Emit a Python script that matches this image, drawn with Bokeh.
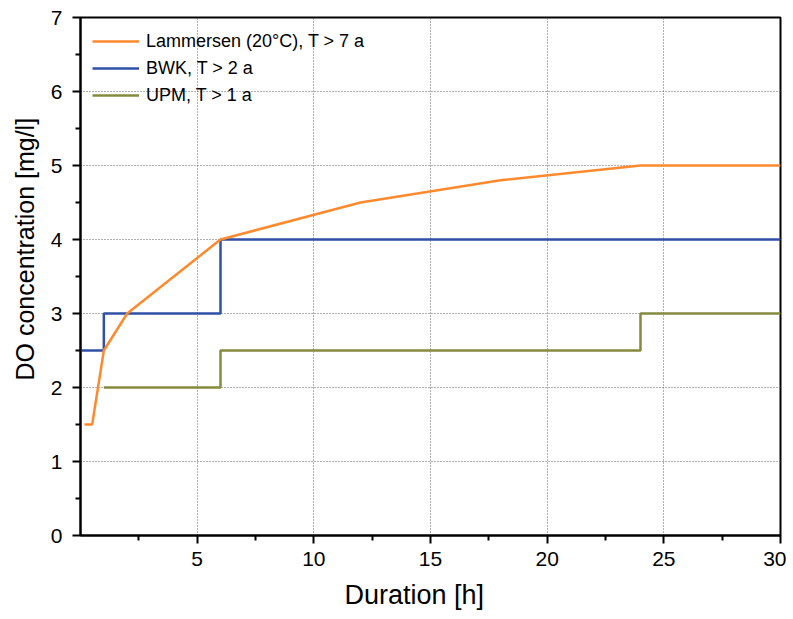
from bokeh.plotting import figure
from bokeh.models import FixedTicker, Legend, LegendItem, Range1d, Title
from bokeh.embed import file_html
from bokeh.resources import INLINE

# Data
lam_x = [0.17, 0.5, 1, 2, 6, 12, 18, 24, 30]
lam_y = [1.5, 1.5, 2.5, 3, 4, 4.5, 4.8, 5, 5]
bwk_x = [0, 1, 6, 30]
bwk_y = [2.5, 3, 4, 4]
upm_x = [1, 6, 24, 30]
upm_y = [2, 2.5, 3, 3]
labels = ["Lammersen (20°C), T > 7 a", "BWK, T > 2 a", "UPM, T > 1 a"]
x_title = "Duration [h]"
y_title = "DO concentration [mg/l]"
x_ticks = [5, 10, 15, 20, 25, 30]
x_minor = [2.5, 7.5, 12.5, 17.5, 22.5, 27.5]
y_ticks = [0, 1, 2, 3, 4, 5, 6, 7]
y_minor = [0.5, 1.5, 2.5, 3.5, 4.5, 5.5, 6.5]

FONT = "Liberation Sans"
p = figure(width=786, height=619, output_backend="svg", toolbar_location=None,
           x_range=Range1d(0, 30), y_range=Range1d(0, 7),
           min_border_left=79, min_border_right=6, min_border_top=17, min_border_bottom=82)
p.background_fill_color = "white"
p.border_fill_color = "white"
p.outline_line_color = "black"
p.outline_line_width = 2

for ax in (p.xaxis[0], p.yaxis[0]):
    ax.axis_line_width = 2
    ax.axis_line_color = "black"
    ax.major_tick_line_width = 2
    ax.minor_tick_line_width = 2
    ax.major_tick_in = 0
    ax.major_tick_out = 8
    ax.minor_tick_in = 0
    ax.minor_tick_out = 5
    ax.major_label_text_font = FONT
    ax.major_label_text_font_size = "21px"
    ax.major_label_text_color = "black"

p.xaxis[0].ticker = FixedTicker(ticks=x_ticks, minor_ticks=x_minor)
p.yaxis[0].ticker = FixedTicker(ticks=y_ticks, minor_ticks=y_minor)
p.xaxis[0].major_label_standoff = 8
p.yaxis[0].major_label_standoff = 10

for g in (p.xgrid[0], p.ygrid[0]):
    g.grid_line_color = "#606060"
    g.grid_line_dash = "1 2"
    g.grid_line_width = 1
p.xgrid[0].ticker = FixedTicker(ticks=[5, 10, 15, 20, 25])
p.ygrid[0].ticker = FixedTicker(ticks=[1, 2, 3, 4, 5, 6])

r_upm = p.step(upm_x, upm_y, mode="after", line_color="#868a3e", line_width=2.5)
r_bwk = p.step(bwk_x, bwk_y, mode="after", line_color="#3050a8", line_width=2.5)
r_lam = p.line(lam_x, lam_y, line_color="#ff8a2e", line_width=2.5)

# axis titles as side titles, positioned like the reference
p.add_layout(Title(text=x_title, align="left", offset=264, text_font=FONT,
                   text_font_size="27px", text_font_style="normal", text_color="black",
                   standoff=19), "below")
p.add_layout(Title(text=y_title, align="left", offset=155, text_font=FONT,
                   text_font_size="25px", text_font_style="normal", text_color="black",
                   standoff=17), "left")

legend = Legend(items=[LegendItem(label=labels[0], renderers=[r_lam]),
                       LegendItem(label=labels[1], renderers=[r_bwk]),
                       LegendItem(label=labels[2], renderers=[r_upm])],
                location="top_left")
legend.border_line_color = None
legend.background_fill_alpha = 0
legend.margin = 12
legend.padding = 0
legend.spacing = 3
legend.glyph_width = 47
legend.glyph_height = 24
legend.label_height = 24
legend.label_standoff = 7
legend.label_text_font = FONT
legend.label_text_font_size = "18px"
legend.label_text_color = "black"
p.add_layout(legend)

open("out.html", "w").write(file_html(p, INLINE))
